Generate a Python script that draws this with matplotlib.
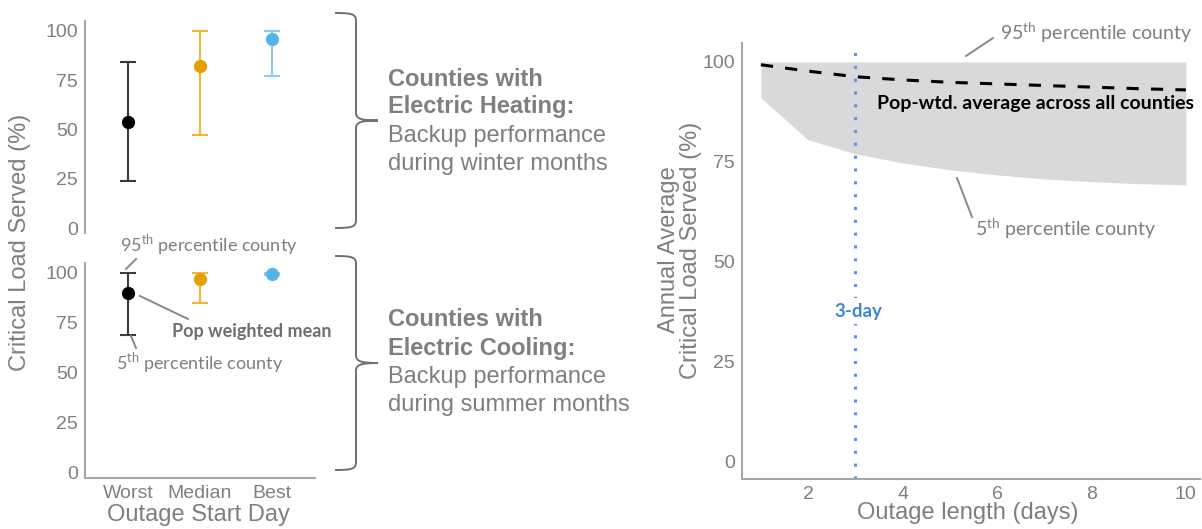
import matplotlib.pyplot as plt
from matplotlib.path import Path
from matplotlib.patches import PathPatch

plt.rcParams["font.family"] = ["Liberation Sans", "DejaVu Sans"]
plt.rcParams["mathtext.fontset"] = "custom"
plt.rcParams["mathtext.rm"] = "Lato"
plt.rcParams["mathtext.bf"] = "Lato:bold"

# backup performance by outage start day (pop-weighted mean, 5th / 95th percentile county)
start_days = ["Worst", "Median", "Best"]
heat_mean = [54, 82, 96]
heat_p5 = [24, 47, 77]
heat_p95 = [84, 100, 100]
cool_mean = [90, 97, 99.5]
cool_p5 = [69, 85, 99]
cool_p95 = [100, 100, 100]

# annual average vs outage length
outage_days = [1, 2, 3, 4, 5, 6, 7, 8, 9, 10]
p95_county = [100, 100, 100, 100, 100, 100, 100, 100, 100, 100]
p5_county = [91, 80.5, 77, 74.7, 73, 71.7, 70.7, 70, 69.5, 69.2]
pop_wtd_avg = [99.3, 97.7, 96.3, 95.5, 94.9, 94.5, 94.1, 93.7, 93.3, 93.0]

dot_colors = ["black", "#E69F00", "#56B4E9"]
bar_colors = ["#3a3a3a", "#F3B83A", "#8ACDF1"]
GRAY = "#7f7f7f"
SPINE = "#a6a6a6"
LEADER = "#8c8496"

fig = plt.figure(figsize=(12.02, 5.29), dpi=100)
W, H = 1202, 529


def px_axes(left, top, right, bottom):
    return fig.add_axes([left / W, 1 - bottom / H, (right - left) / W, (bottom - top) / H])


def style(ax):
    for s in ["top", "right"]:
        ax.spines[s].set_visible(False)
    for s in ["left", "bottom"]:
        ax.spines[s].set_color(SPINE)
        ax.spines[s].set_linewidth(1.5)
    ax.tick_params(length=0, labelsize=14, labelcolor=GRAY, pad=5)


def start_day_panel(ax, means, lo, hi):
    style(ax)
    for i in range(len(start_days)):
        ax.errorbar(i + 1, means[i], yerr=[[means[i] - lo[i]], [hi[i] - means[i]]],
                    fmt="o", ms=8.5, color=dot_colors[i], ecolor=bar_colors[i],
                    elinewidth=1.5, capsize=6, capthick=1.5)
    ax.set_xlim(0.4, 3.6)
    ax.set_ylim(-3, 105)
    ax.set_yticks([0, 25, 50, 75, 100])
    ax.set_xticks([1, 2, 3])
    ax.set_xticklabels(start_days)


ax_heat = px_axes(85, 21, 315, 233)
start_day_panel(ax_heat, heat_mean, heat_p5, heat_p95)
ax_heat.set_ylim(-2.5, 105)
ax_heat.spines["bottom"].set_visible(False)
ax_heat.set_xticklabels([])

ax_cool = px_axes(85, 263, 315, 478)
start_day_panel(ax_cool, cool_mean, cool_p5, cool_p95)

# outage length panel
ax_len = px_axes(742, 43, 1200, 479)
style(ax_len)
ax_len.fill_between(outage_days, p5_county, p95_county, color="#d9d9d9", lw=0)
ax_len.plot(outage_days, pop_wtd_avg, color="black", lw=2.2, dashes=(4, 4))
ax_len.axvline(3, color="#5b8ff0", lw=2.2, linestyle=(0, (1, 3.2)))
ax_len.set_xlim(0.6, 10.3)
ax_len.set_ylim(-4.5, 104.75)
ax_len.set_xticks([2, 4, 6, 8, 10])
ax_len.set_yticks([0, 25, 50, 75, 100])

# overlay in pixel coordinates for labels, braces and leaders
ov = fig.add_axes([0, 0, 1, 1])
ov.set_xlim(0, W)
ov.set_ylim(H, 0)
ov.axis("off")
ov.patch.set_visible(False)


def brace(x0, y_top, y_bot, stem=21, tip=22):
    xm = x0 + stem
    xt = xm + tip
    ym = (y_top + y_bot) / 2
    verts = [(x0, y_top), (xm - 4, y_top), (xm, y_top + 1), (xm, y_top + 8),
             (xm, ym - 8),
             (xm, ym - 2), (xm + 4, ym), (xt, ym),
             (xm + 4, ym), (xm, ym + 2), (xm, ym + 8),
             (xm, y_bot - 8),
             (xm, y_bot - 1), (xm - 4, y_bot), (x0, y_bot)]
    codes = [Path.MOVETO, Path.CURVE4, Path.CURVE4, Path.CURVE4,
             Path.LINETO,
             Path.CURVE4, Path.CURVE4, Path.CURVE4,
             Path.CURVE4, Path.CURVE4, Path.CURVE4,
             Path.LINETO,
             Path.CURVE4, Path.CURVE4, Path.CURVE4]
    ov.add_patch(PathPatch(Path(verts, codes), fill=False, ec="#707070", lw=1.4))


brace(335, 13, 228)
brace(335, 256, 470)

heat_lines = [("Counties with", "bold", 79), ("Electric Heating:", "bold", 107),
              ("Backup performance", "normal", 136), ("during winter months", "normal", 164)]
cool_lines = [("Counties with", "bold", 320), ("Electric Cooling:", "bold", 348),
              ("Backup performance", "normal", 377), ("during summer months", "normal", 405)]
for txt, wt, y in heat_lines + cool_lines:
    ov.text(388, y, txt, fontsize=17, fontweight=wt, color=GRAY, ha="left", va="center")

ov.text(20, 242, "Critical Load Served (%)", rotation=90, fontsize=17, color=GRAY,
        ha="center", va="center")
ov.text(198, 515, "Outage Start Day", fontsize=17, color=GRAY, ha="center", va="center")
ov.text(680, 250, "Annual Average\nCritical Load Served (%)", rotation=90, fontsize=17,
        color=GRAY, ha="center", va="center", linespacing=1.0)
ov.text(968, 513, "Outage length (days)", fontsize=17, color=GRAY, ha="center", va="center")

# left panel callouts
note = dict(family="Lato", color=GRAY, ha="left", va="center")
ov.text(120, 245, r"95$^{\mathrm{th}}$ percentile county", fontsize=13, **note)
ov.text(116, 363, r"5$^{\mathrm{th}}$ percentile county", fontsize=13, **note)
ov.text(172, 332, "Pop weighted mean", fontsize=13, fontweight="bold", family="Lato",
        color="#6f6f6f", ha="left", va="center")
ov.plot([126, 136], [269, 259], color=LEADER, lw=1.4)
ov.plot([140, 188], [296, 319], color=LEADER, lw=1.4)
ov.plot([131, 136], [336, 348], color=LEADER, lw=1.4)

# right panel callouts
ov.text(1000, 33, r"95$^{\mathrm{th}}$ percentile county", fontsize=14, **note)
ov.text(975, 229, r"5$^{\mathrm{th}}$ percentile county", fontsize=14, **note)
ov.text(877, 104, "Pop-wtd. average across all counties", fontsize=14, fontweight="bold",
        family="Lato", color="black", ha="left", va="center")
ov.plot([966, 993], [56, 38], color=LEADER, lw=1.4)
ov.plot([957, 972], [178, 217], color=LEADER, lw=1.4)
ov.text(858, 311, "3-day", fontsize=13.5, fontweight="bold", family="Lato", color="#3c86d8",
        ha="center", va="center",
        bbox=dict(boxstyle="square,pad=0.25", fc="white", ec="none"))

fig.savefig("out.png", dpi=100)
